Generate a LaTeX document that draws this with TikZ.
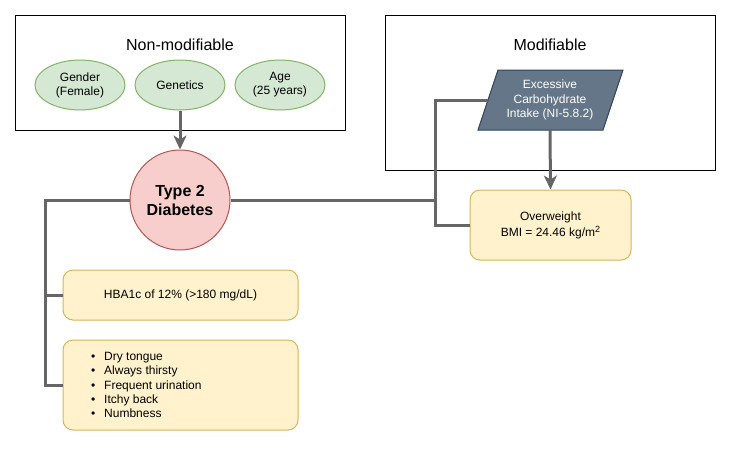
\documentclass[tikz,border=0pt]{standalone}
\usepackage{fontspec}
\setmainfont{Liberation Sans}
\usetikzlibrary{shapes.geometric,arrows.meta}
\definecolor{linegray}{HTML}{666666}
\definecolor{greenfill}{HTML}{D5E8D4}
\definecolor{greenline}{HTML}{82B366}
\definecolor{redfill}{HTML}{F8CECC}
\definecolor{redline}{HTML}{B85450}
\definecolor{yelfill}{HTML}{FFF2CC}
\definecolor{yelline}{HTML}{D6B656}
\definecolor{parafill}{HTML}{647687}
\definecolor{paraline}{HTML}{314354}
\newcommand{\blt}{\makebox[13pt][l]{\textbullet}}
\tikzset{
  groupbox/.style={draw=black,line width=1pt,inner sep=0pt},
  factor/.style={ellipse,draw=greenline,fill=greenfill,line width=1pt,minimum width=90pt,minimum height=50pt,inner sep=0pt,align=center,font=\fontsize{12}{14}\selectfont},
  yelbox/.style={rectangle,rounded corners=10pt,draw=yelline,fill=yelfill,line width=1pt,inner sep=0pt,align=center,font=\fontsize{12}{16}\selectfont},
  conn/.style={draw=linegray,line width=3pt},
  arr/.style={conn,-{Stealth[length=14pt,width=13pt,inset=4pt]}},
  title/.style={font=\fontsize{16}{19}\selectfont}
}
\begin{document}
\begin{tikzpicture}[x=1pt,y=-1pt]
\useasboundingbox (0,0) rectangle (732,448);
% group boxes
\node[groupbox,minimum width=330pt,minimum height=115pt] (nonmod) at (180,72.5) {};
\node[title] (nonmodtitle) at (180,45) {Non-modifiable};
\node[groupbox,minimum width=330pt,minimum height=155pt] (mod) at (550,92.5) {};
\node[title] (modtitle) at (550,45) {Modifiable};
% factors
\node[factor] (gender) at (80,85) {Gender\\(Female)};
\node[factor] (genetics) at (180,85) {Genetics};
\node[factor] (age) at (280,85) {Age\\(25 years)};
% diabetes
\node[circle,draw=redline,fill=redfill,line width=1pt,minimum size=100pt,inner sep=0pt,align=center,font=\fontsize{16}{19}\selectfont\bfseries] (t2d) at (180,200) {Type 2\\Diabetes};
% parallelogram
\coordinate (pa) at (498,70);
\coordinate (pb) at (623,70);
\coordinate (pc) at (603,130);
\coordinate (pd) at (478,130);
\filldraw[fill=parafill,draw=paraline,line width=1pt] (pa) -- (pb) -- (pc) -- (pd) -- cycle;
\node[text=white,align=center,font=\fontsize{12}{14.5}\selectfont] (carb) at (550,100) {Excessive\\Carbohydrate\\Intake (NI-5.8.2)};
\coordinate (paraleft) at (488,100);
\coordinate (parabottom) at (550,130);
% overweight
\node[yelbox,minimum width=161pt,minimum height=70pt] (over) at (550.5,225) {Overweight\\BMI = 24.46 kg/m\raisebox{4pt}{\fontsize{9}{9}\selectfont 2}};
% HBA1c
\node[yelbox,minimum width=235pt,minimum height=50pt] (hba) at (180.5,295) {HBA1c of 12\% (>180 mg/dL)};
% symptoms
\node[yelbox,minimum width=235pt,minimum height=90pt] (sym) at (180.5,385) {};
\node[anchor=north west,inner sep=0pt,align=left,font=\fontsize{12}{14.3}\selectfont] (symtext) at (91,352)
  {\blt Dry tongue\\\blt Always thirsty\\\blt Frequent urination\\\blt Itchy back\\\blt Numbness};
% connectors
\coordinate (jl) at (45,200);
\coordinate (jr) at (435,200);
\coordinate (jt) at (435,100);
\draw[arr] (genetics.south) -- (t2d.north);
\draw[arr] (parabottom) -- (over.north);
\draw[conn] (t2d.east) -- (jr);
\draw[conn] (paraleft) -- (jt) -- (over.west -| jt) -- (over.west);
\draw[conn] (t2d.west) -- (jl) -- (jl |- sym.west) -- (sym.west);
\draw[conn] (jl |- hba.west) -- (hba.west);
\end{tikzpicture}
\end{document}
